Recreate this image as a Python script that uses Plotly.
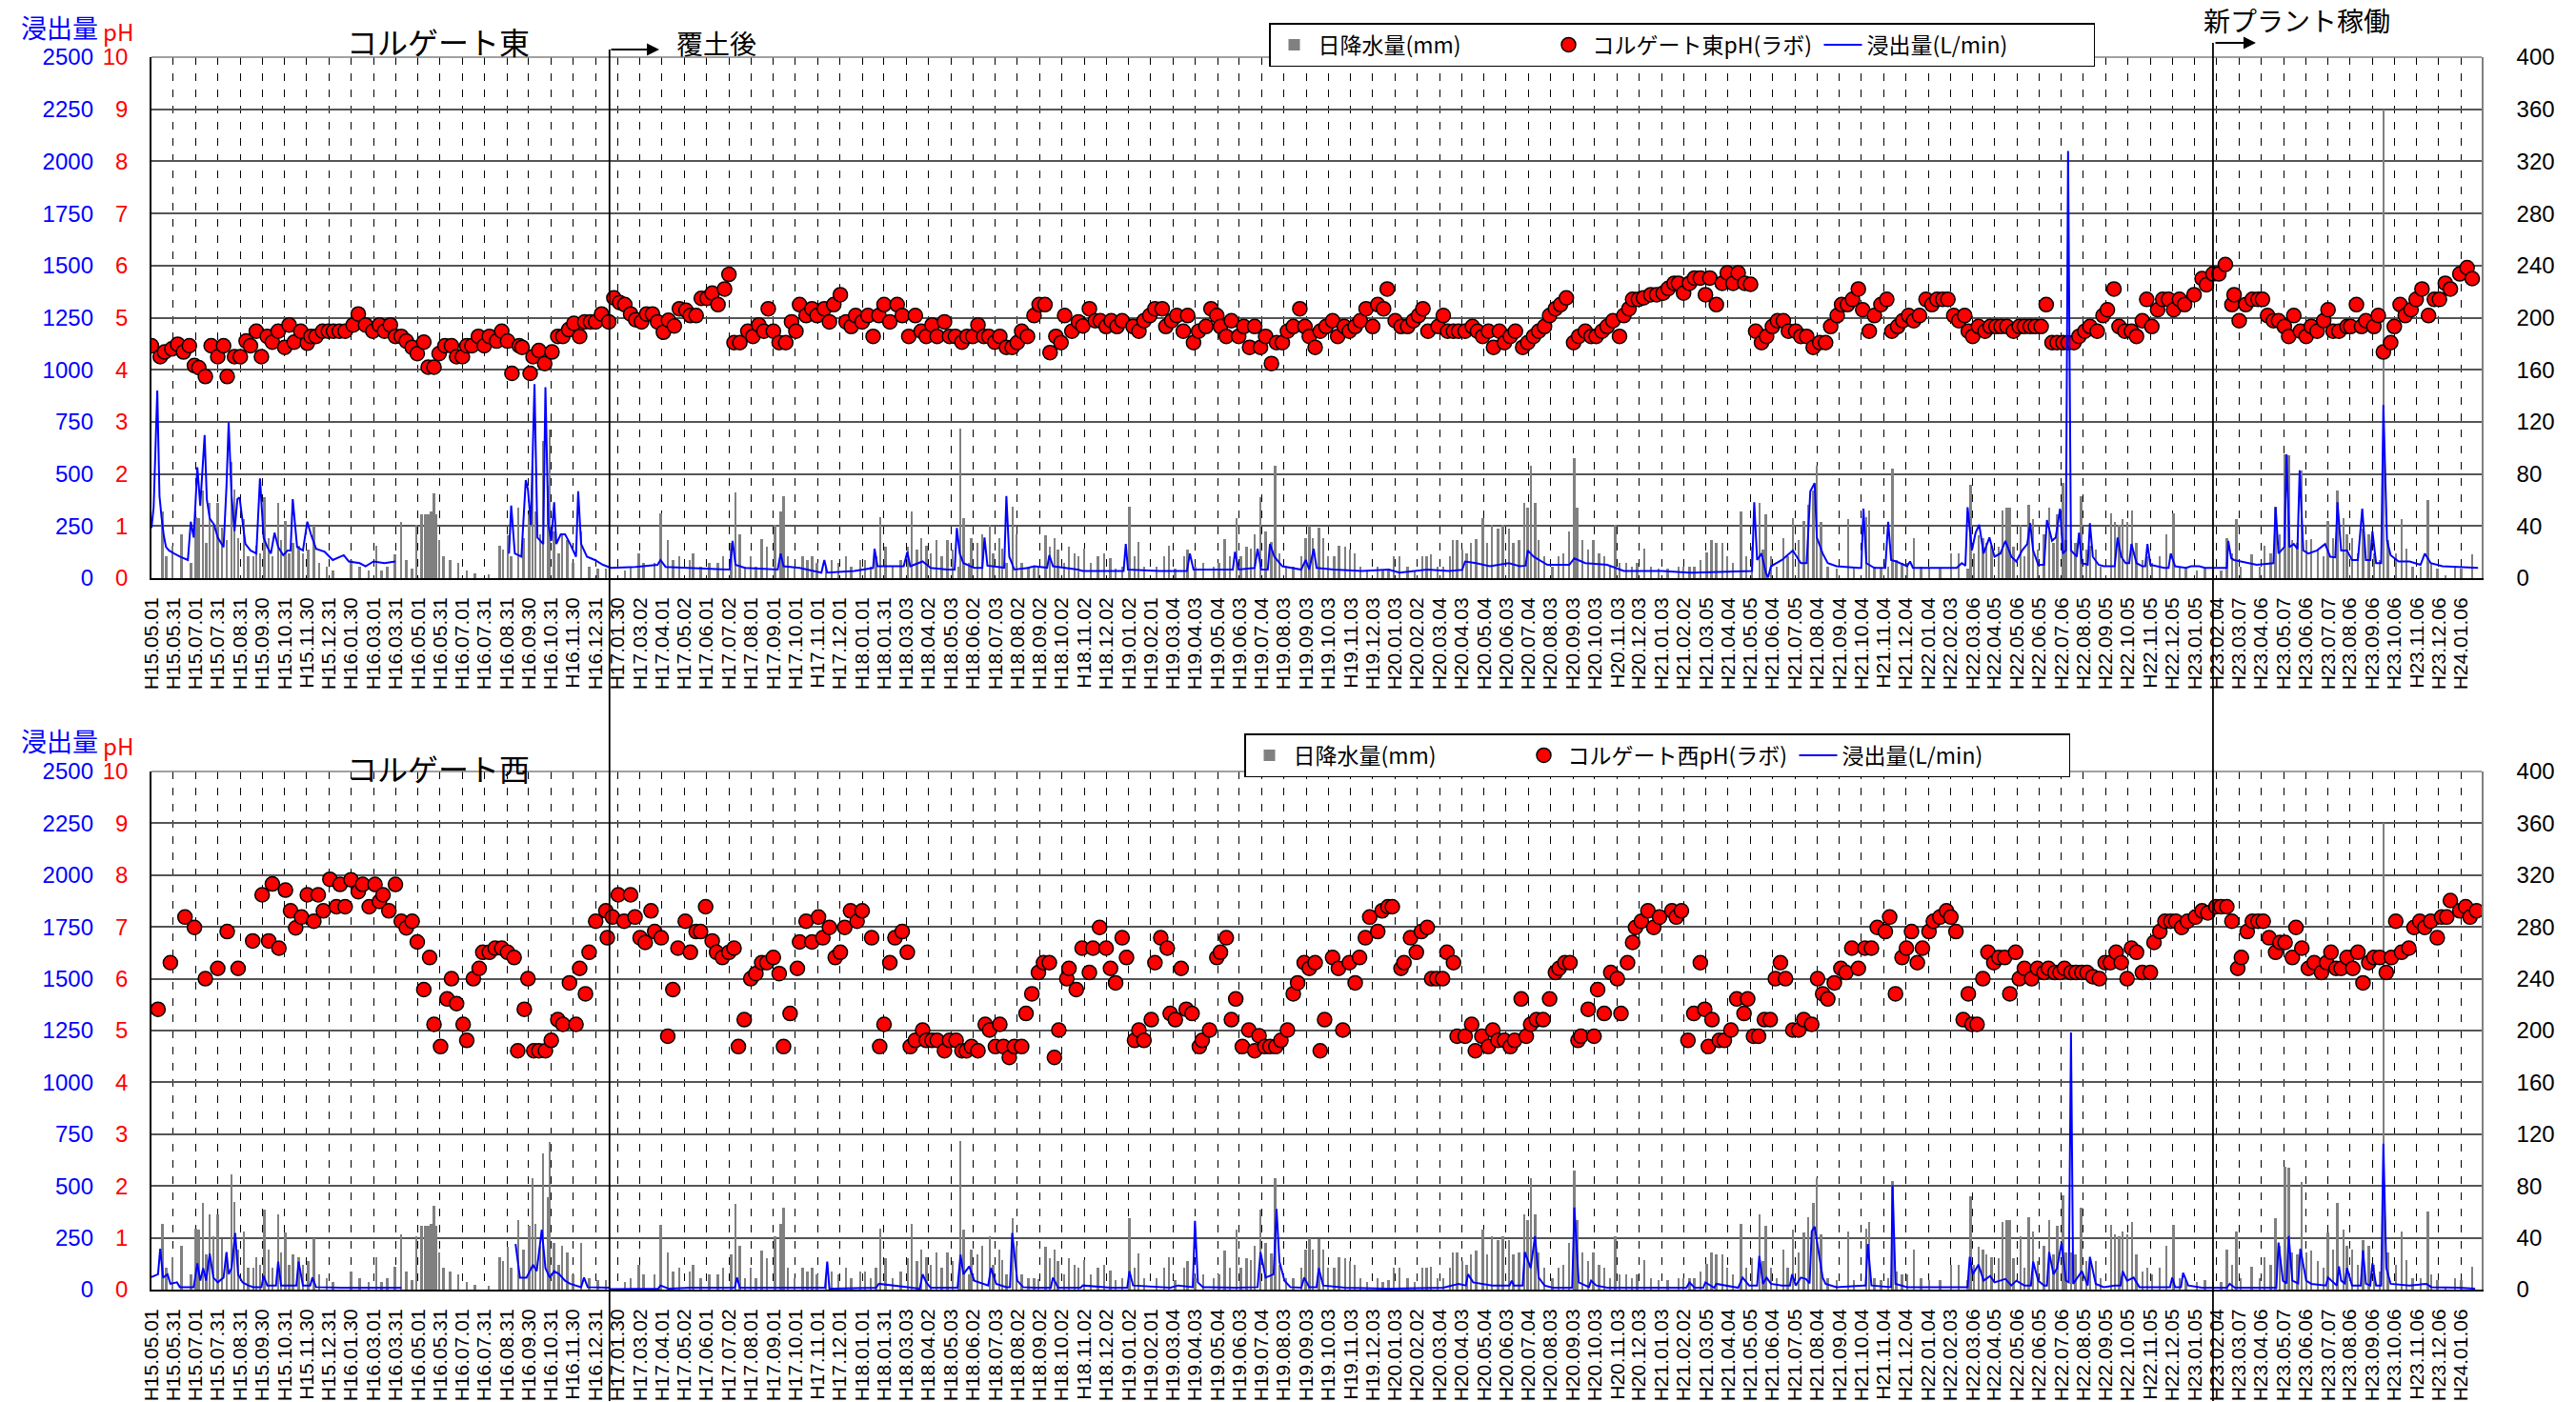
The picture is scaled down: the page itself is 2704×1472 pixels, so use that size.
import pandas as pd
import plotly.graph_objects as go

# ---------------- data (day offsets from 2003-05-01 = H15.05.01) ----------------
START = pd.Timestamp("2003-05-01")
END = pd.Timestamp("2012-02-03")

# コルゲート東 pH (ラボ): (day, pH)
east_ph = [
    (0,4.46),(12,4.25),(18,4.34),(28,4.40),(36,4.49),(44,4.34),(52,4.46),(59,4.08),(65,4.04),(74,3.87),
    (82,4.46),(91,4.25),(99,4.46),(104,3.87),(114,4.25),(122,4.25),(130,4.55),(136,4.46),(144,4.74),(151,4.25),
    (159,4.64),(166,4.53),(174,4.74),(183,4.43),(189,4.86),(196,4.53),(205,4.74),(214,4.51),(219,4.64),(226,4.64),
    (235,4.74),(243,4.74),(250,4.74),(258,4.74),(266,4.74),(277,4.86),(284,5.07),(294,4.86),(304,4.74),(313,4.86),
    (320,4.74),(328,4.86),(335,4.64),(343,4.64),(350,4.55),(358,4.43),(365,4.31),(374,4.53),(380,4.05),(388,4.05),
    (395,4.31),(403,4.46),(412,4.46),(419,4.25),(427,4.25),(433,4.46),(440,4.46),(449,4.64),(457,4.46),(464,4.64),
    (474,4.55),(481,4.74),(489,4.55),(495,3.93),(505,4.46),(509,4.43),(520,3.93),(524,4.25),(532,4.37),(540,4.12),
    (550,4.34),(558,4.64),(565,4.64),(573,4.77),(580,4.89),(588,4.64),(595,4.92),(603,4.92),(610,4.92),(618,5.07),
    (628,4.92),(635,5.38),(643,5.29),(650,5.25),(658,5.07),(665,4.96),(673,4.92),(680,5.07),(688,5.07),(695,4.92),
    (703,4.72),(710,4.95),(718,4.84),(725,5.17),(734,5.14),(740,5.04),(748,5.04),(755,5.37),(763,5.37),(770,5.47),
    (778,5.25),(787,5.55),(793,5.83),(800,4.52),(808,4.52),(819,4.74),(826,4.64),(834,4.86),(841,4.74),(847,5.17),
    (854,4.74),(862,4.52),(871,4.52),(879,4.92),(885,4.74),(890,5.25),(899,5.04),(907,5.17),(914,5.04),(924,5.17),
    (931,4.92),(937,5.25),(946,5.44),(954,4.92),(961,4.83),(967,5.04),(976,4.92),(984,5.04),(991,4.64),(999,5.04),
    (1006,5.25),(1014,4.92),(1024,5.25),(1031,5.04),(1040,4.64),(1049,5.04),(1057,4.74),(1064,4.64),(1072,4.86),(1079,4.64),
    (1089,4.92),(1096,4.64),(1104,4.64),(1113,4.53),(1120,4.64),(1128,4.64),(1135,4.86),(1143,4.64),(1150,4.64),(1158,4.53),
    (1165,4.64),(1174,4.43),(1182,4.43),(1189,4.52),(1195,4.74),(1203,4.64),(1212,5.04),(1219,5.25),(1227,5.25),(1234,4.33),
    (1242,4.64),(1249,4.52),(1254,5.04),(1264,4.74),(1273,4.92),(1279,4.84),(1288,5.17),(1296,4.94),(1303,4.94),(1311,4.83),
    (1318,4.94),(1326,4.83),(1333,4.94),(1348,4.83),(1356,4.74),(1363,4.94),(1371,5.04),(1378,5.17),(1388,5.17),(1393,4.83),
    (1401,4.94),(1408,5.04),(1417,4.74),(1423,5.04),(1431,4.52),(1438,4.74),(1448,4.83),(1455,5.17),(1463,5.04),(1468,4.83),
    (1476,4.64),(1483,4.94),(1493,4.64),(1500,4.83),(1508,4.43),(1515,4.83),(1523,4.43),(1530,4.64),(1538,4.12),(1545,4.52),
    (1553,4.52),(1560,4.74),(1568,4.83),(1577,5.17),(1584,4.83),(1590,4.64),(1598,4.43),(1605,4.74),(1613,4.83),(1622,4.94),
    (1629,4.64),(1638,4.83),(1645,4.74),(1653,4.83),(1660,4.94),(1668,5.17),(1677,4.83),(1684,5.25),(1692,5.17),(1697,5.55),
    (1708,4.94),(1716,4.83),(1725,4.83),(1733,4.94),(1740,5.04),(1746,5.17),(1753,4.74),(1767,4.83),(1774,5.04),(1780,4.74),
    (1788,4.74),(1795,4.74),(1804,4.74),(1814,4.83),(1821,4.74),(1828,4.64),(1836,4.74),(1843,4.43),(1851,4.74),(1858,4.52),
    (1866,4.64),(1873,4.74),(1883,4.43),(1890,4.52),(1898,4.64),(1905,4.74),(1913,4.83),(1920,5.04),(1928,5.17),(1935,5.25),
    (1943,5.38),(1953,4.52),(1960,4.64),(1969,4.74),(1977,4.64),(1984,4.64),(1992,4.74),(1999,4.83),(2007,4.94),(2016,4.64),
    (2022,5.04),(2029,5.17),(2034,5.35),(2042,5.35),(2049,5.38),(2059,5.44),(2067,5.44),(2076,5.47),(2083,5.56),(2091,5.66),
    (2097,5.66),(2104,5.47),(2112,5.66),(2119,5.76),(2127,5.76),(2134,5.44),(2140,5.76),(2149,5.25),(2157,5.66),(2164,5.86),
    (2172,5.66),(2179,5.86),(2188,5.66),(2196,5.64),(2203,4.74),(2211,4.52),(2218,4.64),(2226,4.83),(2233,4.94),(2241,4.94),
    (2248,4.74),(2258,4.74),(2265,4.64),(2273,4.64),(2282,4.43),(2291,4.52),(2299,4.52),(2306,4.83),(2315,5.04),(2321,5.25),
    (2329,5.25),(2336,5.35),(2344,5.55),(2350,5.15),(2359,4.74),(2366,5.04),(2375,5.25),(2383,5.35),(2390,4.74),(2398,4.83),
    (2405,4.94),(2413,5.04),(2420,4.94),(2428,5.04),(2437,5.35),(2445,5.25),(2452,5.35),(2460,5.35),(2467,5.35),(2475,5.04),
    (2482,4.94),(2490,5.04),(2495,4.74),(2501,4.64),(2509,4.83),(2518,4.74),(2525,4.83),(2533,4.83),(2540,4.83),(2548,4.83),
    (2557,4.74),(2565,4.83),(2572,4.83),(2580,4.83),(2587,4.83),(2595,4.83),(2602,5.25),(2610,4.52),(2617,4.52),(2625,4.52),
    (2632,4.52),(2640,4.52),(2647,4.64),(2655,4.74),(2662,4.83),(2672,4.74),(2680,5.04),(2686,5.15),(2695,5.55),(2702,4.83),
    (2710,4.74),(2719,4.74),(2726,4.64),(2734,4.94),(2740,5.35),(2747,4.83),(2755,5.15),(2762,5.35),(2770,5.35),(2777,5.15),
    (2785,5.35),(2792,5.25),(2805,5.44),(2816,5.75),(2822,5.63),(2831,5.84),(2839,5.84),(2848,6.02),(2857,5.25),(2860,5.44),
    (2867,4.94),(2876,5.25),(2885,5.35),(2893,5.35),(2899,5.35),(2906,5.04),(2914,4.94),(2921,4.94),(2929,4.83),(2935,4.64),
    (2942,5.04),(2951,4.74),(2959,4.64),(2966,4.83),(2974,4.74),(2983,4.94),(2989,5.15),(2996,4.74),(3004,4.74),(3015,4.83),
    (3020,4.83),(3028,5.25),(3035,4.83),(3041,4.94),(3052,4.83),(3058,5.04),(3065,4.34),(3075,4.52),(3080,4.83),(3088,5.25),
    (3095,5.04),(3103,5.15),(3110,5.35),(3118,5.55),(3127,5.04),(3135,5.35),(3142,5.35),(3150,5.66),(3157,5.55),(3170,5.84),
    (3180,5.96),(3187,5.75),
]

# コルゲート西 pH (ラボ): (day, pH)
west_ph = [
    (9,5.41),(26,6.31),(46,7.19),(59,6.99),(74,6.00),(91,6.20),(104,6.91),(119,6.20),(139,6.73),(152,7.62),
    (161,6.73),(166,7.83),(175,6.59),(184,7.71),(191,7.31),(198,6.98),(206,7.19),(214,7.62),(223,7.11),(229,7.62),
    (236,7.31),(245,7.92),(254,7.39),(259,7.82),(266,7.39),(274,7.91),(284,7.68),(290,7.82),(299,7.39),(307,7.82),
    (313,7.49),(318,7.62),(326,7.31),(335,7.82),(343,7.11),(350,6.98),(358,7.11),(365,6.71),(374,5.79),(382,6.41),
    (388,5.12),(397,4.69),(406,5.61),(412,6.00),(419,5.52),(428,5.12),(433,4.81),(442,6.00),(450,6.20),(455,6.51),
    (464,6.51),(472,6.59),(481,6.59),(489,6.51),(498,6.41),(503,4.61),(512,5.41),(517,6.00),(525,4.61),(532,4.61),
    (541,4.61),(549,4.81),(558,5.21),(565,5.12),(574,5.92),(583,5.12),(588,6.20),(596,5.71),(601,6.51),(610,7.11),
    (624,7.31),(626,6.79),(633,7.19),(641,7.62),(649,7.11),(658,7.62),(664,7.19),(671,6.79),(678,6.70),(686,7.31),
    (691,6.91),(700,6.79),(709,4.89),(716,5.79),(723,6.59),(733,7.11),(740,6.51),(748,6.91),(754,6.91),(761,7.39),
    (770,6.73),(776,6.51),(784,6.41),(793,6.51),(800,6.59),(806,4.69),(814,5.21),(823,6.00),(830,6.10),(838,6.31),
    (845,6.31),(854,6.41),(862,6.10),(868,4.69),(877,5.33),(887,6.20),(890,6.71),(899,7.11),(907,6.71),(916,7.19),
    (922,6.79),(931,6.99),(939,6.41),(946,6.51),(952,6.99),(960,7.31),(969,7.11),(976,7.31),(989,6.79),(1000,4.69),
    (1006,5.12),(1014,6.31),(1021,6.79),(1031,6.91),(1038,6.51),(1042,4.69),(1049,4.81),(1059,5.01),(1064,4.81),(1072,4.81),
    (1079,4.81),(1089,4.61),(1096,4.81),(1105,4.81),(1113,4.61),(1119,4.61),(1126,4.69),(1135,4.61),(1145,5.12),(1151,5.01),
    (1159,4.69),(1165,5.12),(1170,4.69),(1178,4.48),(1185,4.69),(1195,4.69),(1201,5.33),(1209,5.71),(1218,6.12),(1225,6.31),
    (1233,6.31),(1240,4.48),(1246,5.01),(1257,6.00),(1260,6.20),(1270,5.79),(1278,6.59),(1288,6.12),(1293,6.59),(1302,6.99),
    (1311,6.59),(1317,6.20),(1324,5.92),(1333,6.79),(1339,6.41),(1350,4.81),(1356,5.01),(1363,4.81),(1373,5.21),(1378,6.31),
    (1386,6.79),(1395,6.59),(1399,5.33),(1406,5.21),(1414,6.20),(1421,5.41),(1429,5.33),(1439,4.69),(1443,4.81),(1453,5.01),
    (1463,6.41),(1468,6.51),(1476,6.79),(1483,5.21),(1489,5.61),(1498,4.69),(1507,5.01),(1515,4.61),(1521,4.90),(1529,4.69),
    (1536,4.69),(1544,4.69),(1551,4.81),(1560,5.01),(1568,5.71),(1574,5.92),(1583,6.31),(1590,6.20),(1598,6.31),(1605,4.61),
    (1611,5.21),(1622,6.41),(1630,6.20),(1636,5.01),(1645,6.31),(1653,5.92),(1659,6.41),(1667,6.79),(1673,7.19),(1684,6.91),
    (1690,7.31),(1698,7.39),(1704,7.39),(1716,6.20),(1720,6.31),(1729,6.79),(1737,6.51),(1744,6.91),(1752,6.99),(1758,6.00),
    (1765,6.00),(1773,6.00),(1779,6.51),(1788,6.31),(1793,4.89),(1804,4.89),(1813,5.12),(1818,4.61),(1827,4.89),(1836,4.69),
    (1842,5.01),(1849,4.81),(1858,4.81),(1866,4.69),(1872,4.81),(1881,5.61),(1888,4.89),(1894,5.12),(1902,5.21),(1911,5.21),
    (1920,5.61),(1928,6.12),(1933,6.20),(1941,6.31),(1948,6.31),(1959,4.81),(1963,4.89),(1973,5.41),(1981,4.89),(1986,5.79),
    (1995,5.33),(2004,6.12),(2013,6.00),(2018,5.33),(2027,6.31),(2034,6.70),(2038,6.99),(2046,7.11),(2055,7.31),(2063,6.99),
    (2071,7.19),(2088,7.31),(2094,7.19),(2101,7.31),(2110,4.81),(2118,5.33),(2127,6.31),(2133,5.41),(2138,4.69),(2143,5.21),
    (2153,4.81),(2160,4.81),(2169,5.01),(2177,5.61),(2187,5.33),(2192,5.61),(2200,4.89),(2207,4.89),(2215,5.21),(2223,5.21),
    (2230,6.00),(2237,6.31),(2244,6.00),(2254,5.01),(2262,5.01),(2269,5.21),(2280,5.12),(2288,6.00),(2295,5.71),(2302,5.61),
    (2311,5.92),(2320,6.20),(2327,6.12),(2335,6.59),(2344,6.20),(2353,6.59),(2362,6.59),(2370,6.99),(2381,6.91),(2387,7.19),
    (2395,5.71),(2404,6.41),(2410,6.59),(2417,6.91),(2425,6.31),(2432,6.59),(2441,6.91),(2447,7.11),(2456,7.19),(2465,7.31),
    (2471,7.19),(2478,6.91),(2488,5.21),(2495,5.71),(2500,5.12),(2507,5.12),(2515,6.00),(2522,6.51),(2530,6.31),(2537,6.41),
    (2545,6.41),(2552,5.71),(2560,6.51),(2565,6.00),(2572,6.20),(2582,6.00),(2590,6.20),(2599,6.12),(2605,6.20),(2614,6.12),
    (2621,6.12),(2627,6.20),(2636,6.12),(2643,6.12),(2651,6.12),(2658,6.12),(2666,6.04),(2675,6.00),(2683,6.31),(2690,6.31),
    (2698,6.51),(2705,6.31),(2713,6.00),(2719,6.59),(2726,6.51),(2734,6.12),(2745,6.12),(2750,6.70),(2758,6.91),(2765,7.11),
    (2773,7.11),(2780,7.11),(2788,6.99),(2796,7.11),(2807,7.19),(2816,7.31),(2824,7.27),(2835,7.39),(2842,7.39),(2850,7.39),
    (2857,7.11),(2865,6.20),(2870,6.41),(2878,6.91),(2885,7.11),(2893,7.11),(2900,7.11),(2908,6.79),(2917,6.51),(2923,6.70),
    (2930,6.70),(2940,6.41),(2945,6.99),(2953,6.59),(2962,6.20),(2970,6.31),(2980,6.12),(2987,6.31),(2993,6.51),(3000,6.20),
    (3007,6.20),(3015,6.41),(3023,6.20),(3030,6.51),(3037,5.92),(3045,6.31),(3052,6.41),(3060,6.41),(3069,6.12),(3076,6.41),
    (3082,7.11),(3090,6.51),(3100,6.59),(3107,6.99),(3115,7.11),(3122,6.99),(3130,7.11),(3139,6.79),(3145,7.19),(3152,7.19),
    (3157,7.51),(3170,7.31),(3178,7.39),(3184,7.19),(3193,7.31),
]

# 浸出量 (L/min) コルゲート東: (day, L/min); None = no measurement
east_flow = [
    (0,241),(3,340),(8,900),(11,394),(14,287),(17,202),(20,149),(24,133),(31,118),(39,103),(50,87),(54,271),(58,195),
    (63,532),(67,348),(73,686),(76,379),(80,287),(86,256),(91,195),(99,149),(103,440),(106,747),(110,394),(114,225),
    (118,379),(121,387),(125,271),(129,164),(136,133),(144,118),(149,479),(154,195),(159,149),(164,118),(169,218),
    (174,149),(181,110),(187,133),(191,133),(194,379),(200,149),(208,133),(214,271),(219,210),(226,141),(238,126),(249,87),
    (264,110),(271,80),(286,72),(294,57),(305,80),(320,72),(335,80),(400,None),
    (491,118),(494,348),(499,118),(508,103),(514,471),(517,425),(521,256),(526,931),(530,195),(538,164),(541,916),
    (545,256),(549,179),(553,364),(556,164),(562,210),(568,210),(575,164),(583,103),(586,417),(590,164),(598,103),
    (609,87),(620,64),(631,49),(665,54),(695,64),(699,87),(706,54),(740,49),(778,41),(794,41),(798,179),(802,64),
    (815,49),(860,41),(864,118),(868,57),(890,49),(920,26),(924,87),(928,26),(965,34),(991,49),(993,141),(997,57),
    (1033,57),(1038,126),(1042,57),(1059,80),(1070,49),(1093,41),(1103,41),(1106,241),(1110,118),(1115,72),(1130,49),
    (1141,49),(1144,195),(1148,60),(1160,55),(1171,50),(1174,394),(1178,103),(1185,41),(1204,49),(1212,57),(1230,50),
    (1233,110),(1238,57),(1272,41),(1279,34),(1324,34),(1335,34),(1338,164),(1341,41),(1384,34),(1422,34),(1426,118),
    (1431,41),(1474,41),(1485,41),(1488,126),(1493,41),(1515,49),(1519,141),(1524,41),(1533,41),(1536,164),(1542,103),
    (1553,57),(1579,41),(1585,87),(1590,41),(1596,141),(1600,49),(1624,41),(1662,34),(1699,41),(1714,26),(1752,41),
    (1782,34),(1800,40),(1804,80),(1819,72),(1838,57),(1864,72),(1879,57),(1887,60),(1890,133),(1898,103),(1917,64),
    (1947,64),(1954,95),(1969,72),(1999,64),(2022,34),(2074,34),(2112,26),(2179,34),(2198,34),(2201,364),(2205,87),
    (2211,118),(2217,26),(2220,3),(2224,57),(2239,87),(2254,133),(2265,72),(2273,72),(2278,417),(2284,456),(2287,195),
    (2295,118),(2302,72),(2314,57),(2344,49),(2348,49),(2351,333),(2355,72),(2366,49),(2381,49),(2385,271),(2389,87),
    (2396,80),(2411,57),(2415,80),(2419,49),(2479,49),(2486,72),(2491,60),(2494,340),(2500,133),(2505,218),(2510,256),
    (2516,118),(2524,195),(2531,103),(2539,118),(2546,179),(2554,103),(2561,80),(2569,133),(2576,164),(2580,264),
    (2584,133),(2591,64),(2599,64),(2603,279),(2610,179),(2615,195),(2621,333),(2625,118),(2629,133),(2632,2050),
    (2636,133),(2644,103),(2647,218),(2651,72),(2659,64),(2662,264),(2666,103),(2674,64),(2681,57),(2696,57),(2700,195),
    (2705,103),(2711,72),(2716,72),(2719,164),(2726,72),(2734,57),(2738,57),(2741,164),(2745,64),(2764,49),(2770,49),
    (2773,118),(2779,57),(2794,49),(2801,57),(2812,57),(2820,49),(2850,49),(2852,179),(2856,95),(2860,87),(2891,64),
    (2914,72),(2917,340),(2921,118),(2929,149),(2932,594),(2936,149),(2942,164),(2947,140),(2950,517),(2955,133),
    (2962,118),(2974,133),(2985,164),(2992,103),(2999,100),(3002,364),(3007,133),(3015,133),(3022,87),(3030,87),
    (3036,333),(3041,87),(3047,87),(3050,225),(3055,72),(3062,72),(3065,831),(3070,179),(3075,110),(3086,80),(3101,80),
    (3116,64),(3122,118),(3130,72),(3146,57),(3195,49),
]

# 浸出量 (L/min) コルゲート西: (day, L/min)
west_flow = [
    (0,60),(9,74),(12,197),(16,58),(22,74),(26,28),(35,35),(39,12),(58,12),(63,127),(67,43),(71,104),(75,43),(80,174),
    (85,58),(91,35),(99,58),(103,181),(106,74),(110,104),(115,273),(119,74),(125,35),(133,20),(140,12),(151,12),(154,66),
    (159,20),(171,20),(174,135),(178,20),(193,20),(199,20),(202,135),(208,20),(218,20),(221,58),(226,12),(260,9),(343,9),
    (420,None),
    (500,220),(506,58),(515,58),(524,120),(529,89),(536,289),(541,104),(547,58),(553,89),(560,74),(568,43),(575,28),
    (590,12),(594,58),(599,12),(628,9),(631,2),(665,5),(696,5),(699,20),(710,5),(740,9),(801,9),(804,58),(808,9),
    (860,9),(925,9),(928,135),(931,5),(995,9),(999,28),(1055,5),(1059,74),(1064,35),(1070,9),(1107,9),(1111,169),
    (1115,74),(1121,104),(1123,112),(1130,43),(1149,20),(1153,104),(1160,28),(1174,12),(1179,12),(1182,273),(1185,181),
    (1189,43),(1197,12),(1212,9),(1235,9),(1238,58),(1245,9),(1276,9),(1279,20),(1317,9),(1340,9),(1343,89),(1348,20),
    (1399,9),(1410,20),(1430,12),(1433,332),(1437,35),(1444,12),(1489,9),(1519,12),(1523,181),(1530,58),(1541,74),
    (1545,389),(1549,135),(1556,43),(1564,12),(1579,9),(1583,58),(1590,12),(1600,12),(1603,104),(1609,20),(1639,9),
    (1699,5),(1774,9),(1795,28),(1805,20),(1808,74),(1815,35),(1841,20),(1865,20),(1868,43),(1871,20),(1883,20),
    (1886,181),(1894,104),(1900,258),(1905,58),(1913,20),(1924,9),(1947,9),(1951,9),(1954,396),(1960,35),(1974,12),
    (1977,43),(1984,20),(1999,9),(2052,9),(2108,9),(2112,35),(2119,9),(2131,9),(2134,35),(2146,9),(2149,28),(2179,9),
    (2185,58),(2194,20),(2205,20),(2208,163),(2213,28),(2218,58),(2224,28),(2239,20),(2250,20),(2253,74),(2258,20),
    (2265,58),(2272,51),(2277,30),(2280,281),(2284,304),(2295,58),(2299,28),(2314,12),(2351,20),(2354,20),(2357,220),
    (2362,20),(2389,12),(2391,504),(2395,28),(2411,12),(2486,12),(2494,12),(2497,158),(2501,74),(2509,120),(2516,43),
    (2525,66),(2531,35),(2546,51),(2554,20),(2561,43),(2572,20),(2581,20),(2584,135),(2591,43),(2599,20),(2603,20),
    (2606,181),(2612,74),(2617,104),(2623,227),(2629,43),(2633,35),(2636,1241),(2639,28),(2651,89),(2659,20),(2662,158),
    (2670,28),(2681,12),(2696,20),(2704,20),(2707,89),(2713,43),(2722,58),(2730,12),(2741,12),(2772,12),(2775,58),
    (2779,12),(2787,12),(2790,81),(2797,20),(2816,9),(2850,9),(2854,28),(2861,9),(2918,9),(2921,227),(2927,43),
    (2932,30),(2935,258),(2940,43),(2948,30),(2951,197),(2959,43),(2966,28),(2986,20),(2989,58),(3001,20),(3004,112),
    (3007,43),(3012,30),(3015,104),(3022,20),(3034,20),(3037,189),(3041,28),(3047,20),(3050,127),(3055,20),(3062,20),
    (3065,704),(3069,104),(3075,28),(3101,20),(3124,28),(3131,12),(3169,9),(3191,5),
]

# 日降水量 (mm): (day, mm)
rain = [
    (15,51),(20,17),(29,25),(41,34),(54,12),(61,47),(65,46),(71,67),(75,27),(80,58),(85,41),(91,58),(97,39),(103,29),
    (110,89),(114,68),(119,31),(127,45),(133,17),(140,17),(144,25),(149,19),(155,62),(161,31),(166,17),(174,58),(178,29),
    (184,44),(189,19),(194,27),(202,25),(208,19),(215,22),(223,40),(230,12),(241,9),(249,6),(274,14),(286,9),(298,6),
    (309,25),(316,6),(324,9),(334,18),(343,43),(350,14),(358,7),(364,41),(371,49),(376,49),(380,49),(384,51),(388,65),
    (391,49),(395,29),(401,17),(410,14),(421,12),(433,6),(444,4),(463,3),(478,25),(483,22),(489,33),(494,17),(504,54),
    (511,31),(519,49),(523,86),(527,51),(534,34),(538,105),(544,71),(547,114),(553,36),(559,19),(564,34),(571,29),
    (579,12),(590,36),(601,9),(613,7),(624,7),(650,6),(658,9),(669,19),(676,12),(691,12),(699,50),(709,29),(716,14),
    (725,17),(739,14),(744,19),(754,9),(766,12),(778,12),(785,17),(796,27),(802,66),(808,34),(815,9),(823,17),(830,9),
    (838,30),(845,24),(856,41),(864,51),(868,63),(874,17),(883,9),(894,17),(901,14),(907,17),(914,12),(926,9),(934,14),
    (943,12),(954,17),(961,9),(973,14),(980,14),(988,9),(995,17),(1001,47),(1008,24),(1018,9),(1029,14),(1039,24),
    (1044,51),(1051,22),(1057,31),(1064,25),(1070,19),(1078,29),(1085,17),(1093,29),(1100,22),(1108,9),(1111,115),
    (1115,46),(1123,12),(1126,31),(1134,27),(1141,34),(1151,41),(1156,19),(1164,31),
    (1168,23),(1174,12),(1183,55),(1188,34),(1195,12),(1204,9),(1212,9),(1218,8),(1228,33),(1234,24),(1240,31),(1245,22),
    (1253,12),(1260,24),(1268,19),(1273,17),(1281,23),(1290,12),(1300,17),(1308,19),(1317,15),(1324,7),(1333,9),(1343,55),
    (1350,17),(1355,28),(1363,9),(1380,9),(1391,17),(1397,25),(1406,7),(1418,17),(1423,22),(1433,9),(1444,12),(1459,9),
    (1466,12),(1474,30),(1481,17),(1490,46),(1496,17),(1504,24),(1510,23),(1515,34),(1523,62),(1530,36),(1538,28),
    (1543,86),(1549,19),(1558,9),(1568,9),(1579,17),(1585,31),(1590,40),(1595,31),(1603,39),(1609,31),(1616,17),
    (1624,17),(1631,25),(1639,24),(1646,22),(1652,19),(1660,9),(1669,6),(1684,9),(1691,6),(1699,7),(1706,17),(1714,17),
    (1725,9),(1735,6),(1745,17),(1751,17),(1757,18),(1766,9),(1774,9),(1783,17),(1787,29),(1793,29),(1800,22),(1806,19),
    (1812,27),(1819,30),(1828,46),(1834,27),(1841,41),(1849,38),(1856,41),(1864,38),(1870,27),(1878,29),(1885,58),
    (1890,54),(1894,86),(1900,58),(1905,29),(1913,17),(1924,9),(1932,17),(1939,19),(1947,36),(1954,92),(1958,54),
    (1965,29),(1973,22),(1980,29),(1988,19),(1995,17),(2003,9),(2010,41),(2016,12),(2025,12),(2033,9),(2040,12),
    (2050,23),(2059,9),(2070,7),(2082,7),(2097,9),(2104,9),(2112,9),(2119,9),(2127,14),(2136,20),(2142,29),(2149,27),
    (2157,27),(2164,17),(2172,12),(2183,51),(2190,17),(2198,24),(2208,58),(2213,22),(2217,49),(2224,17),(2232,9),
    (2241,31),(2247,17),(2254,46),(2262,29),(2269,44),
    (2275,56),(2282,67),(2287,86),(2293,43),(2302,9),(2314,7),(2330,45),(2338,7),(2355,47),(2359,52),(2366,9),(2375,7),
    (2385,9),(2391,84),(2396,14),(2404,12),(2411,12),(2420,31),(2430,9),(2441,7),(2456,7),(2471,19),(2482,19),(2494,7),
    (2498,72),(2503,19),(2509,33),(2515,31),(2520,27),(2527,25),(2537,24),(2542,52),(2548,54),(2552,54),(2557,24),
    (2567,41),(2572,17),(2578,56),(2584,45),(2590,22),(2599,34),(2606,54),(2612,27),(2617,49),(2625,73),(2629,29),
    (2636,29),(2642,27),(2650,63),(2657,22),(2662,25),(2670,22),(2677,9),(2691,50),(2696,43),(2702,41),(2707,45),
    (2713,43),(2720,52),(2726,27),(2734,14),(2741,17),(2747,12),(2758,17),(2767,34),(2777,50),(2785,9),(2794,7),
    (2809,6),(2820,7),(2831,6),(2842,6),(2850,31),(2857,19),(2863,45),(2869,9),(2884,18),(2895,9),(2902,25),(2910,19),
    (2917,55),(2923,34),(2930,95),(2935,94),(2940,29),(2947,27),(2953,83),(2959,29),(2966,30),(2975,22),(2983,17),
    (2989,44),(2996,31),(3002,67),(3010,46),(3015,34),(3022,31),(3030,19),(3037,38),(3045,34),(3052,19),(3060,14),
    (3065,360),(3071,29),(3082,19),(3090,45),(3097,23),(3105,9),(3116,9),(3126,60),(3131,12),(3139,7),(3150,2),
    (3163,9),(3172,7),(3187,18),
]

# event dates
COVER_DAY = "2005-01-19"   # 覆土後
PLANT_DAY = "2011-01-30"   # 新プラント稼働

# x tick positions: every 30.5 days from H15.05.01
tick_dates = [START + pd.Timedelta(days=int(30.5 * k)) for k in range(105)]
tick_text = [f"H{d.year - 1988}.{d.month:02d}.{d.day:02d}" for d in tick_dates]

# ---------------- helpers ----------------
def split(pairs):
    pairs = sorted(pairs, key=lambda p: p[0])
    xs = [START + pd.Timedelta(days=d) for d, _ in pairs]
    ys = [v for _, v in pairs]
    return xs, ys

W, H = 2704, 1472
def px_x(p): return p / W
def px_y(p): return 1 - p / H

FONT = "Liberation Sans, Arial, Noto Sans CJK JP, sans-serif"
CJK = "Noto Sans CJK JP, sans-serif"

x_dom = [px_x(159), px_x(2605)]
top_dom = [px_y(607), px_y(60)]
bot_dom = [px_y(1354), px_y(810)]

fig = go.Figure()

rx, ry = split(rain)
DAY_MS = 86400000

panels = [
    dict(xa="x", ya=("y", "y2", "y3"), ph=east_ph, flow=east_flow, name="コルゲート東pH(ラボ)", legend="legend"),
    dict(xa="x2", ya=("y4", "y5", "y6"), ph=west_ph, flow=west_flow, name="コルゲート西pH(ラボ)", legend="legend2"),
]
for p in panels:
    fig.add_trace(go.Bar(x=rx, y=ry, width=3.2 * DAY_MS, marker=dict(color="#808080", line=dict(width=0)),
                         name="日降水量(mm)", xaxis=p["xa"], yaxis=p["ya"][0], legend=p["legend"]))
    phx, phy = split(p["ph"])
    fig.add_trace(go.Scatter(x=phx, y=phy, mode="markers", name=p["name"],
                             marker=dict(color="#FF0000", size=15, line=dict(color="black", width=1.5)),
                             xaxis=p["xa"], yaxis=p["ya"][1], legend=p["legend"]))
    fx, fy = split(p["flow"])
    fig.add_trace(go.Scatter(x=fx, y=fy, mode="lines", name="浸出量(L/min)", connectgaps=False,
                             line=dict(color="#0000FF", width=2),
                             xaxis=p["xa"], yaxis=p["ya"][2], legend=p["legend"]))

def xaxis_cfg(anchor):
    return dict(domain=x_dom, anchor=anchor, type="date", range=[START, END],
                tickmode="array", tickvals=tick_dates, ticktext=tick_text, tickangle=-90,
                tickfont=dict(size=21, color="black", family=FONT), ticks="", ticklabelstandoff=10,
                showgrid=True, gridcolor="black", gridwidth=1, griddash="8px,9px",
                showline=True, linecolor="black", linewidth=2, zeroline=False, automargin=False)

def rain_cfg(dom, anchor):
    return dict(domain=dom, anchor=anchor, side="right", range=[0, 400], tick0=0, dtick=40,
                tickfont=dict(size=24, color="black", family=FONT), ticks="", ticklabelstandoff=30,
                showgrid=True, gridcolor="#555555", gridwidth=1.5, showline=True, linecolor="#808080",
                linewidth=1.5, zeroline=False, automargin=False)

def ph_cfg(base, anchor):
    return dict(overlaying=base, anchor=anchor, side="left", range=[0, 10], tick0=0, dtick=1,
                tickfont=dict(size=24, color="#FF0000", family=FONT), ticks="", ticklabelstandoff=18,
                showgrid=False, showline=True, linecolor="black", linewidth=1.5, zeroline=False,
                automargin=False)

def flow_cfg(base):
    return dict(overlaying=base, anchor="free", position=px_x(100), side="left", range=[0, 2500],
                tick0=0, dtick=250, tickfont=dict(size=24, color="#0000FF", family=FONT), ticks="",
                ticklabelstandoff=2, showgrid=False, showline=False, zeroline=False, automargin=False)

legend_common = dict(orientation="h", bgcolor="white", bordercolor="black", borderwidth=1.5,
                     font=dict(size=23, color="black", family=CJK), xanchor="left", yanchor="top",
                     entrywidth=233, itemwidth=40, tracegroupgap=0)

fig.update_layout(
    width=W, height=H, margin=dict(l=0, r=0, t=0, b=0, autoexpand=False),
    paper_bgcolor="white", plot_bgcolor="white",
    font=dict(family=FONT, color="black"),
    barmode="overlay", bargap=0,
    xaxis=xaxis_cfg("y"), xaxis2=xaxis_cfg("y4"),
    yaxis=rain_cfg(top_dom, "x"), yaxis2=ph_cfg("y", "x"), yaxis3=flow_cfg("y"),
    yaxis4=rain_cfg(bot_dom, "x2"), yaxis5=ph_cfg("y4", "x2"), yaxis6=flow_cfg("y4"),
    legend=dict(x=px_x(1332), y=px_y(24), **legend_common),
    legend2=dict(x=px_x(1306), y=px_y(770), **legend_common),
    showlegend=True,
)

shapes = []
for xa, ya in (("x", "y"), ("x2", "y4")):
    shapes.append(dict(type="line", xref=f"{xa} domain", yref=f"{ya} domain", x0=0, x1=1, y0=1, y1=1,
                       line=dict(color="#808080", width=1.5)))
shapes.append(dict(type="line", xref="x", yref="paper", x0=COVER_DAY, x1=COVER_DAY,
                   y0=px_y(1471), y1=px_y(52), line=dict(color="black", width=1.8)))
shapes.append(dict(type="line", xref="x", yref="paper", x0=PLANT_DAY, x1=PLANT_DAY,
                   y0=px_y(1471), y1=px_y(45), line=dict(color="black", width=1.8)))
fig.update_layout(shapes=shapes)

ann = []
def text(t, x, y, size, color="black", **kw):
    ann.append(dict(text=t, x=px_x(x), y=px_y(y), xref="paper", yref="paper", showarrow=False,
                    font=dict(size=size, color=color, family=CJK), xanchor="center", yanchor="middle", **kw))

text("コルゲート東", 460, 43, 32)
text("コルゲート西", 460, 806, 32)
text("覆土後", 752, 45, 28)
text("新プラント稼働", 2411, 21, 28)
for y0 in (0, 749):
    text("浸出量", 62, 28 + y0, 27, "#0000FF")
    text("pH", 124, 33 + y0, 24, "#FF0000")

# arrows
ann.append(dict(x=px_x(692), y=px_y(52), xref="paper", yref="paper", ax=-52, ay=0, text="",
                showarrow=True, arrowhead=2, arrowsize=1.3, arrowwidth=2, arrowcolor="black"))
ann.append(dict(x=px_x(2368), y=px_y(45), xref="paper", yref="paper", ax=-44, ay=0, text="",
                showarrow=True, arrowhead=2, arrowsize=1.3, arrowwidth=2, arrowcolor="black"))
fig.update_layout(annotations=ann)

fig.write_html("out.html")
